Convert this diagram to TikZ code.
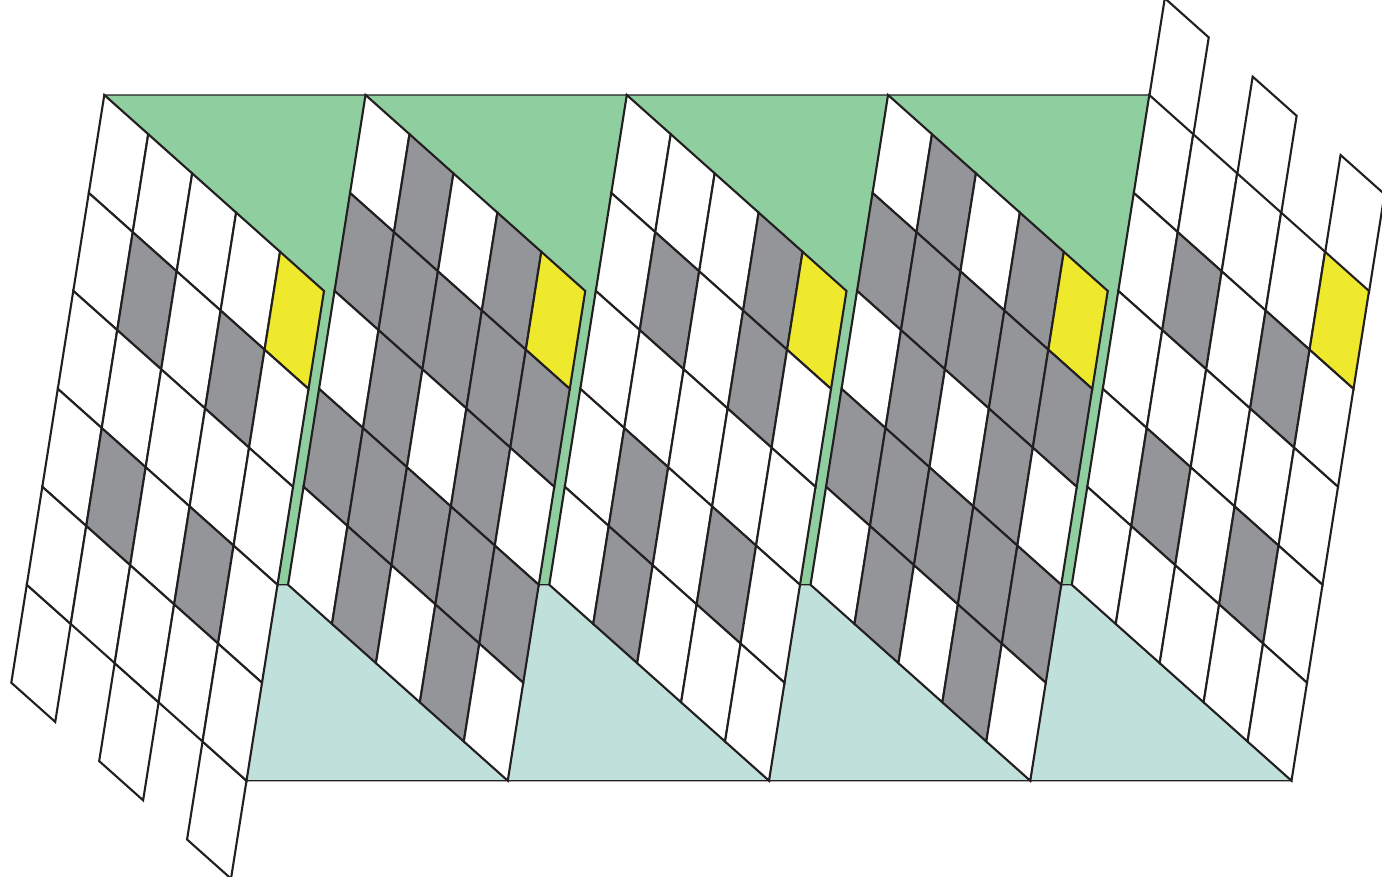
\documentclass[tikz,border=0pt]{standalone}
\definecolor{topgreen}{HTML}{8FCE9F}
\definecolor{lowteal}{HTML}{C0E0DB}
\definecolor{cellgrey}{HTML}{939598}
\definecolor{cellyellow}{HTML}{EEE92D}
\definecolor{inkline}{HTML}{231F20}
\tikzset{
  cellbox/.style={draw=inkline,line width=2.1pt,line join=miter,miter limit=10},
  bandbox/.style={draw=inkline,line width=1.2pt,line join=miter},
  lattice/.style={x={(43.94pt,-39.19pt)},y={(-15.5pt,-97.95pt)}}
}
\newcommand{\cellat}[3]{\fill[#3] (#1,#2) -- ++(1,0) -- ++(0,1) -- ++(-1,0) -- cycle;\draw[cellbox] (#1,#2) -- ++(1,0) -- ++(0,1) -- ++(-1,0) -- cycle;}
\begin{document}
\begin{tikzpicture}[x=1pt,y=-1pt]
\useasboundingbox (0,0) rectangle (1382,876);
\clip (0,0) rectangle (1382,876);
\fill[white] (0,0) rectangle (1382,876);
% coloured bands
\foreach \k in {0,1,2,3}{
  \pgfmathsetmacro\ox{104.3+261.25*\k}
  \draw[bandbox,fill=topgreen] (\ox,95) -- (\ox+261.25,95) -- (\ox+261.25-77.5,584.75)
     -- (\ox+219.7-46.5,584.75) -- (\ox+219.7,290.95) -- cycle;
  \draw[bandbox,fill=lowteal] (\ox+219.7-46.5,584.75) -- (\ox+142.2,780.7)
     -- (\ox+403.45,780.7) -- (\ox+183.75,584.75) -- cycle;
}
% cells
\foreach \k in {0,1,2,3,4}{
  \pgfmathsetmacro\ox{104.3+261.25*\k}
  \begin{scope}[shift={(\ox,95)},lattice]
  \ifnum\k=0
    \foreach \i in {0,2,4}{\cellat{\i}{5}{white}}
  \fi
  \ifnum\k=4
    \begin{scope}[yshift=-1.2pt]
    \foreach \i in {0,2,4}{\cellat{\i}{-1}{white}}
    \end{scope}
  \fi
  \foreach \i in {0,1,2,3,4}{
    \foreach \j in {0,1,2,3,4}{
      \pgfmathtruncatemacro\oi{mod(\i,2)}
      \pgfmathtruncatemacro\oj{mod(\j,2)}
      \def\cc{white}
      \ifodd\k\relax
        \ifnum\numexpr\oi+\oj\relax>0 \def\cc{cellgrey}\fi
      \else
        \ifnum\numexpr\oi+\oj\relax=2 \def\cc{cellgrey}\fi
      \fi
      \ifnum\k=2
        \ifnum\i=3 \ifnum\j=0 \def\cc{cellgrey}\fi\fi
        \ifnum\i=1 \ifnum\j=4 \def\cc{cellgrey}\fi\fi
      \fi
      \ifnum\i=4 \ifnum\j=0 \def\cc{cellyellow}\fi\fi
      \cellat{\i}{\j}{\cc}
    }
  }
  \end{scope}
}
\end{tikzpicture}
\end{document}
